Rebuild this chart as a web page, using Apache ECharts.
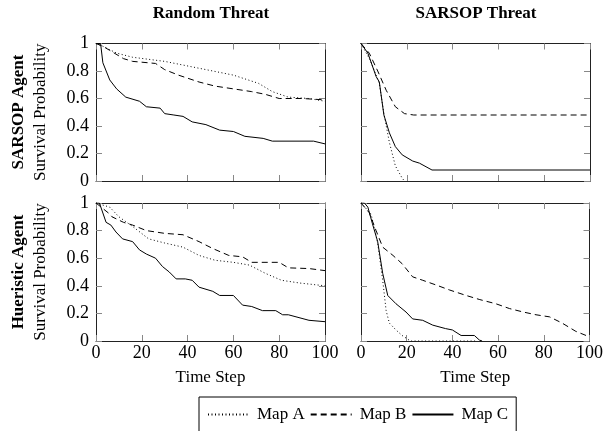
<!DOCTYPE html>
<html>
<head>
<meta charset="utf-8">
<script src="https://cdn.jsdelivr.net/npm/echarts@6/dist/echarts.min.js"></script>
<style>html,body{margin:0;padding:0;background:#fff}#main{width:606px;height:431px}</style>
</head>
<body>
<div id="main"></div>
<script>
var dom = document.getElementById("main");
var chart = echarts.init(dom);

// column / row headings
var colTitles = ['Random Threat', 'SARSOP Threat'];
var rowTitles = ['SARSOP Agent', 'Hueristic Agent'];
var mapNames = ['Map A', 'Map B', 'Map C'];

// SARSOP agent vs random threat
var tlA = [[0,1],[3,0.98],[9,0.93],[16,0.9],[30,0.87],[45,0.82],[60,0.77],[71,0.71],[77,0.65],[84,0.61],[93,0.6],[100,0.58]];
var tlB = [[0,1],[3,0.98],[6,0.95],[12,0.89],[16,0.87],[26,0.855],[30,0.81],[36,0.77],[45,0.72],[52,0.69],[60,0.67],[68,0.65],[74,0.63],[80,0.6],[90,0.6],[100,0.59]];
var tlC = [[0,1],[2,1],[3,0.86],[6,0.735],[9,0.67],[13,0.61],[19,0.58],[22,0.54],[28,0.53],[30,0.49],[34,0.48],[38,0.47],[42,0.43],[48,0.41],[54,0.37],[60,0.36],[65,0.325],[73,0.31],[77,0.29],[95,0.29],[100,0.27]];
// SARSOP agent vs SARSOP threat
var trA = [[0,1],[4,0.88],[8,0.71],[10,0.49],[12.4,0.28],[15,0.11],[18,0.02],[19,0]];
var trB = [[0,1],[3.6,0.93],[7.3,0.8],[11,0.66],[15,0.54],[19,0.49],[23,0.48],[100,0.48]];
var trC = [[0,1],[3,0.93],[6.6,0.76],[8,0.72],[10,0.48],[12.4,0.35],[15,0.25],[18,0.19],[22.6,0.145],[25.5,0.13],[31,0.08],[100,0.08]];
// heuristic agent vs random threat
var blA = [[0,1],[6,0.97],[10,0.9],[16,0.83],[23,0.74],[30,0.71],[38,0.68],[45,0.62],[52,0.585],[60,0.57],[67,0.55],[74,0.49],[81,0.44],[89,0.42],[100,0.4]];
var blB = [[0,1],[6,0.92],[7,0.9],[12,0.86],[16,0.84],[22,0.8],[30,0.78],[38,0.77],[45,0.72],[51,0.67],[58,0.62],[64,0.61],[68,0.57],[80,0.57],[84,0.53],[93,0.525],[100,0.51]];
var blC = [[0,1],[1.5,1],[4.4,0.86],[6.5,0.84],[8.7,0.79],[11.6,0.74],[16,0.72],[19,0.66],[22,0.63],[26,0.6],[29,0.54],[32,0.5],[35,0.45],[39,0.45],[42,0.44],[45,0.39],[51,0.36],[54,0.33],[60,0.33],[64,0.26],[68,0.25],[72.7,0.22],[78.5,0.22],[81.5,0.19],[84,0.19],[93,0.15],[100,0.14]];
// heuristic agent vs SARSOP threat
var brA = [[0,1],[4.4,0.92],[7.3,0.71],[9.5,0.44],[11,0.22],[12.4,0.13],[15.3,0.08],[18,0.04],[21,0.007],[22,0],[50,0]];
var brB = [[0,1],[3.6,0.93],[6.6,0.8],[9.5,0.68],[14,0.62],[18,0.56],[22.6,0.465],[27,0.44],[33,0.405],[38.7,0.37],[46,0.33],[52,0.3],[59,0.27],[65,0.235],[71,0.21],[76.6,0.19],[82.5,0.175],[88,0.13],[94,0.07],[100,0.03]];
var brC = [[0,1],[1.5,1],[3,0.97],[5,0.85],[7.3,0.72],[9.5,0.49],[11.7,0.33],[15.3,0.27],[19.7,0.21],[22.6,0.16],[27,0.15],[31.4,0.115],[37,0.09],[40,0.08],[43.8,0.04],[49.6,0.04],[51.8,0.007],[53,0]];

var panels = [[tlA, tlB, tlC], [trA, trB, trC], [blA, blB, blC], [brA, brB, brC]];
var dashTypes = [[1, 2.5], [6, 4], 'solid'];

var font = 'Liberation Serif';
var grids = [
    {left: 96, top: 43.5, width: 229, height: 137.5},
    {left: 361, top: 43.5, width: 229, height: 137.5},
    {left: 96, top: 203, width: 229, height: 138},
    {left: 361, top: 203, width: 229, height: 138}
];

var xAxes = [], yAxes = [], series = [];
grids.forEach(function (g, i) {
    var col = i % 2, row = Math.floor(i / 2);
    [0, 1].forEach(function (k) {
        var main = k === 0;
        xAxes.push({
            type: 'value', gridIndex: i, min: 0, max: 100, interval: 20,
            position: main ? 'bottom' : 'top',
            splitLine: {show: false},
            axisLine: {show: true, onZero: false, lineStyle: {color: '#222', width: 1}},
            axisTick: {show: true, inside: true, length: 6, lineStyle: {color: '#888', width: 1}},
            axisLabel: {show: main && row === 1, color: '#000', fontFamily: font, fontSize: 18, margin: 3},
            name: main && row === 1 ? 'Time Step' : '',
            nameLocation: 'middle', nameGap: 28,
            nameTextStyle: {color: '#000', fontFamily: font, fontSize: 17}
        });
        yAxes.push({
            type: 'value', gridIndex: i, min: 0, max: 1, interval: 0.2,
            position: main ? 'left' : 'right',
            splitLine: {show: false},
            axisLine: {show: true, onZero: false, lineStyle: {color: '#222', width: 1}},
            axisTick: {show: true, inside: true, length: 6, lineStyle: {color: '#888', width: 1}},
            axisLabel: {show: main && col === 0, color: '#000', fontFamily: font, fontSize: 18, margin: 7},
            name: main && col === 0 ? 'Survival Probability' : '',
            nameLocation: 'middle', nameGap: 47,
            nameTextStyle: {color: '#000', fontFamily: font, fontSize: 17}
        });
    });
    panels[i].forEach(function (d, m) {
        series.push({
            name: mapNames[m], type: 'line', xAxisIndex: i * 2, yAxisIndex: i * 2,
            data: d, showSymbol: false, symbol: 'none', animation: false,
            itemStyle: {color: '#000'},
            lineStyle: {color: '#000', width: 1, type: dashTypes[m]}
        });
    });
});

var option = {
    backgroundColor: '#fff',
    animation: false,
    title: colTitles.map(function (t, c) {
        return {
            text: t, left: c === 0 ? 211 : 476, top: 5, textAlign: 'center', padding: 0,
            textStyle: {fontFamily: font, fontSize: 17, fontWeight: 'bold', color: '#000'}
        };
    }),
    graphic: rowTitles.map(function (t, r) {
        return {
            type: 'text', x: 18.5, y: r === 0 ? 112 : 272, rotation: Math.PI / 2,
            style: {text: t, font: 'bold 17px "Liberation Serif"', fill: '#000', align: 'center', verticalAlign: 'middle'}
        };
    }),
    legend: {
        data: mapNames, left: 199, top: 397, orient: 'horizontal',
        itemWidth: 41, itemHeight: 14, itemGap: 5,
        padding: [9, 8, 12, 8],
        borderColor: '#000', borderWidth: 1, borderRadius: 0,
        itemStyle: {opacity: 0},
        textStyle: {fontFamily: font, fontSize: 17, color: '#000', padding: [0, 0, 0, 3]}
    },
    grid: grids,
    xAxis: xAxes,
    yAxis: yAxes,
    series: series
};
chart.setOption(option);
</script>
</body>
</html>
